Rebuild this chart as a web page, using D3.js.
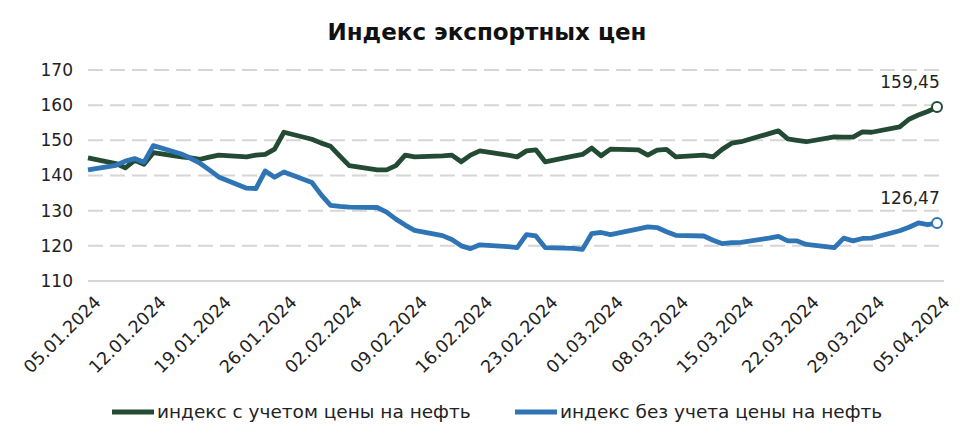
<!DOCTYPE html>
<html><head><meta charset="utf-8">
<script src="https://cdn.jsdelivr.net/npm/d3@7/dist/d3.min.js"></script>
<style>body{margin:0;background:#fff;}svg{display:block;font-family:"DejaVu Sans", sans-serif;}</style>
</head><body><svg id="c" width="974" height="443"></svg>
<script>
const dates = ["2024-01-05","2024-01-08","2024-01-09","2024-01-10","2024-01-11","2024-01-12","2024-01-15","2024-01-16","2024-01-17","2024-01-18","2024-01-19","2024-01-22","2024-01-23","2024-01-24","2024-01-25","2024-01-26","2024-01-29","2024-01-30","2024-01-31","2024-02-01","2024-02-02","2024-02-05","2024-02-06","2024-02-07","2024-02-08","2024-02-09","2024-02-12","2024-02-13","2024-02-14","2024-02-15","2024-02-16","2024-02-19","2024-02-20","2024-02-21","2024-02-22","2024-02-23","2024-02-26","2024-02-27","2024-02-28","2024-02-29","2024-03-01","2024-03-04","2024-03-05","2024-03-06","2024-03-07","2024-03-08","2024-03-11","2024-03-12","2024-03-13","2024-03-14","2024-03-15","2024-03-18","2024-03-19","2024-03-20","2024-03-21","2024-03-22","2024-03-25","2024-03-26","2024-03-27","2024-03-28","2024-03-29","2024-04-01","2024-04-02","2024-04-03","2024-04-04","2024-04-05"];
const withOil = [145,143.4,142.2,144.3,143.2,146.5,145.3,145.0,144.6,145.2,145.8,145.3,145.8,146,147.5,152.3,150.3,149.2,148.3,145.5,142.8,141.6,141.6,142.8,145.8,145.3,145.6,145.8,143.9,145.8,147,145.8,145.3,147,147.3,143.9,145.5,146,147.8,145.6,147.5,147.3,145.8,147.2,147.4,145.3,145.8,145.3,147.5,149.2,149.6,151.9,152.7,150.4,150.0,149.6,151,150.9,150.9,152.4,152.3,153.8,156,157.2,158.2,159.45];
const withoutOil = [141.6,142.9,144.1,144.8,143.8,148.5,146.1,144.9,143.5,141.6,139.6,136.4,136.3,141.3,139.5,141.0,138.0,134.5,131.5,131.2,131.0,130.9,129.6,127.6,125.9,124.4,122.9,121.8,120.0,119.2,120.3,119.8,119.5,123.2,122.8,119.5,119.3,119.0,123.5,123.8,123.2,124.8,125.4,125.2,124.0,123.0,122.8,121.6,120.6,120.9,121.0,122.2,122.7,121.4,121.4,120.4,119.5,122.2,121.4,122.1,122.2,124.3,125.3,126.5,126.0,126.47];
const seriesNames = ["индекс с учетом цены на нефть","индекс без учета цены на нефть"];
const yTicks = [110,120,130,140,150,160,170];
const xTickDates = ["2024-01-05","2024-01-12","2024-01-19","2024-01-26","2024-02-02","2024-02-09","2024-02-16","2024-02-23","2024-03-01","2024-03-08","2024-03-15","2024-03-22","2024-03-29","2024-04-05"];
const endLabels = ["159,45","126,47"];
const title = "Индекс экспортных цен";

const colors = ["#234a33","#2f75b5"];
const parse = d3.utcParse("%Y-%m-%d");
const fmt = d3.utcFormat("%d.%m.%Y");
const svg = d3.select("#c");
const x = d3.scaleUtc().domain([parse(dates[0]), parse(dates[dates.length-1])]).range([88,937]);
const y = d3.scaleLinear().domain([110,170]).range([281,70]);

svg.append("text").attr("x",487).attr("y",40).attr("text-anchor","middle")
  .attr("font-size",23).attr("font-weight",700).attr("fill","#111").text(title);

// grid
svg.append("g").selectAll("line").data(yTicks).join("line")
  .attr("x1",88).attr("x2",944).attr("y1",d=>y(d)).attr("y2",d=>y(d))
  .attr("stroke","#d6d6d6").attr("stroke-width",2)
  .attr("stroke-dasharray",d=>d===110?null:"15,7");

// y axis labels via axis
const ya = svg.append("g").attr("transform","translate(80,0)")
  .call(d3.axisLeft(y).tickValues(yTicks).tickSize(0).tickPadding(7));
ya.select(".domain").remove();
ya.selectAll("text").attr("font-size",17).attr("fill","#222").attr("font-family","DejaVu Sans, sans-serif");

// x axis
const xa = svg.append("g").attr("transform","translate(0,281)")
  .call(d3.axisBottom(x).tickValues(xTickDates.map(parse)).tickFormat(fmt).tickSize(0));
xa.select(".domain").remove();
xa.selectAll("text").attr("font-size",17.5).attr("fill","#222").attr("font-family","DejaVu Sans, sans-serif")
  .attr("text-anchor","end").attr("transform","translate(9,18) rotate(-45)").attr("dy","0.35em").attr("y",0).attr("x",0);

const series = [withOil, withoutOil];
const line = d3.line().x((d,i)=>x(parse(dates[i]))).y(d=>y(d));
series.forEach((s,k)=>{
  svg.append("path").datum(s).attr("d",line).attr("fill","none")
    .attr("stroke",colors[k]).attr("stroke-width",4.8).attr("stroke-linejoin","round");
  const last = s[s.length-1];
  const lx = x(parse(dates[dates.length-1]));
  svg.append("circle").attr("cx",lx).attr("cy",y(last)).attr("r",5)
    .attr("fill","#fff").attr("stroke",colors[k]).attr("stroke-width",2);
  svg.append("text").attr("x",lx-27).attr("y",y(last)-19).attr("text-anchor","middle")
    .attr("font-size",17).attr("fill","#222").text(endLabels[k]);
});

// legend
const lg = [[112,157],[515,560]];
seriesNames.forEach((n,k)=>{
  svg.append("line").attr("x1",lg[k][0]).attr("x2",lg[k][0]+42).attr("y1",412).attr("y2",412)
    .attr("stroke",colors[k]).attr("stroke-width",5);
  svg.append("text").attr("x",lg[k][1]).attr("y",418).attr("font-size",18.5).attr("fill","#222").text(n);
});
</script></body></html>
